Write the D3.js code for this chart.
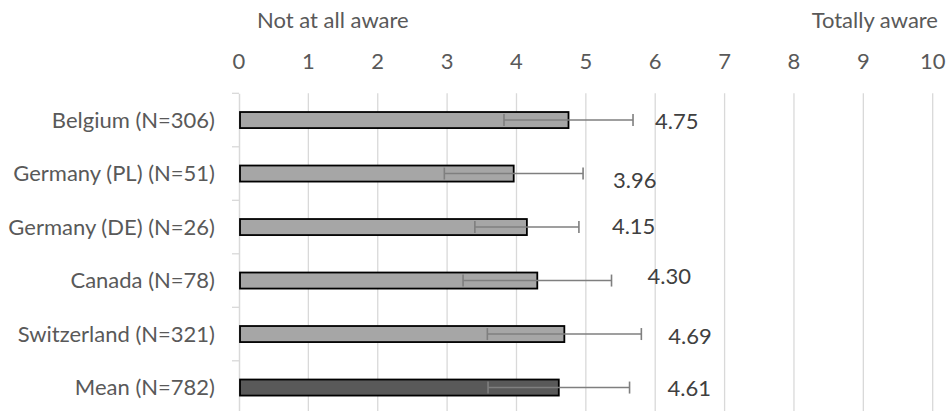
<!DOCTYPE html>
<html>
<head>
<meta charset="utf-8">
<script src="https://cdn.jsdelivr.net/npm/d3@7"></script>
<style>
  html, body { margin: 0; padding: 0; background: #fff; }
  svg { display: block; font-family: Lato, "Open Sans", sans-serif; }
</style>
</head>
<body>
<svg id="chart" width="950" height="411"></svg>
<script>
// ---- data ----
const categories = ["Belgium (N=306)", "Germany (PL) (N=51)", "Germany (DE) (N=26)", "Canada (N=78)", "Switzerland (N=321)", "Mean (N=782)"];
const means = [4.75, 3.96, 4.15, 4.30, 4.69, 4.61];
const sds = [0.93, 1.00, 0.75, 1.07, 1.11, 1.02];
const isMean = [false, false, false, false, false, true];
const tickValues = [0, 1, 2, 3, 4, 5, 6, 7, 8, 9, 10];
const leftTitle = "Not at all aware";
const rightTitle = "Totally aware";

// ---- layout (label nudges in px, from Excel manual label placement) ----
const labelDx = [22, 30, 33, 36, 27, 38];
const labelDy = [1, 7, -1, -4.5, 2.5, 1];

const textColor = "#595959";
const gridColor = "#d9d9d9";
const fontSize = 22;

const svg = d3.select("#chart");
const x = d3.scaleLinear().domain([0, 10]).range([239, 932.7]);
const y = d3.scaleBand().domain(categories).range([93.3, 414.3]).paddingInner(0.7).paddingOuter(0.35);
const step = y.step();

// gridlines
svg.append("g").selectAll("line").data(tickValues.filter(d => d > 0)).join("line")
  .attr("x1", d => x(d)).attr("x2", d => x(d))
  .attr("y1", 93.3).attr("y2", 414.3)
  .attr("stroke", gridColor).attr("stroke-width", 1.3);

// top tick labels
svg.append("g").selectAll("text").data(tickValues).join("text")
  .attr("x", d => x(d)).attr("y", 69.3)
  .attr("text-anchor", "middle")
  .attr("fill", textColor).attr("font-size", fontSize)
  .text(d => d);

// titles
svg.append("text").attr("x", 257).attr("y", 27.5)
  .attr("fill", textColor).attr("font-size", fontSize).text(leftTitle);
svg.append("text").attr("x", 938).attr("y", 27.5).attr("text-anchor", "end")
  .attr("fill", textColor).attr("font-size", fontSize).text(rightTitle);

// category axis (left)
const yAxis = d3.axisLeft(y).tickSize(0).tickPadding(0);
const ag = svg.append("g").attr("transform", `translate(${x(0)},0)`).call(yAxis);
ag.select(".domain").attr("stroke", gridColor).attr("stroke-width", 1.5);
ag.selectAll(".tick text").remove();
// boundary tick marks
const bounds = categories.map(c => y(c) - step * 0.35).concat([y(categories[categories.length-1]) + step*0.65]);
svg.append("g").selectAll("line").data(bounds).join("line")
  .attr("x1", x(0) - 7).attr("x2", x(0))
  .attr("y1", d => d).attr("y2", d => d)
  .attr("stroke", gridColor).attr("stroke-width", 1.3);

// category labels
svg.append("g").selectAll("text").data(categories).join("text")
  .attr("x", 215).attr("y", d => y(d) + y.bandwidth() / 2 + 7.5)
  .attr("text-anchor", "end")
  .attr("fill", textColor).attr("font-size", fontSize)
  .text(d => d);

// bars
svg.append("g").selectAll("rect").data(categories).join("rect")
  .attr("x", x(0) + 1)
  .attr("y", d => y(d))
  .attr("width", (d, i) => x(means[i]) - x(0) - 1)
  .attr("height", y.bandwidth())
  .attr("fill", (d, i) => isMean[i] ? "#595959" : "#a6a6a6")
  .attr("stroke", "#000").attr("stroke-width", 1.8);

// error bars
const eb = svg.append("g").attr("stroke", "#7f7f7f").attr("stroke-width", 1.6);
categories.forEach((c, i) => {
  const cy = y(c) + y.bandwidth() / 2;
  const lo = x(means[i] - sds[i]), hi = x(means[i] + sds[i]);
  eb.append("line").attr("x1", lo).attr("x2", hi).attr("y1", cy).attr("y2", cy);
  eb.append("line").attr("x1", lo).attr("x2", lo).attr("y1", cy - 6).attr("y2", cy + 6);
  eb.append("line").attr("x1", hi).attr("x2", hi).attr("y1", cy - 6).attr("y2", cy + 6);
});

// value labels
svg.append("g").selectAll("text").data(categories).join("text")
  .attr("x", (d, i) => x(means[i] + sds[i]) + labelDx[i])
  .attr("y", (d, i) => y(d) + y.bandwidth() / 2 + labelDy[i] + 7.6)
  .attr("fill", "#404040").attr("font-size", fontSize)
  .text((d, i) => means[i].toFixed(2));
</script>
</body>
</html>
